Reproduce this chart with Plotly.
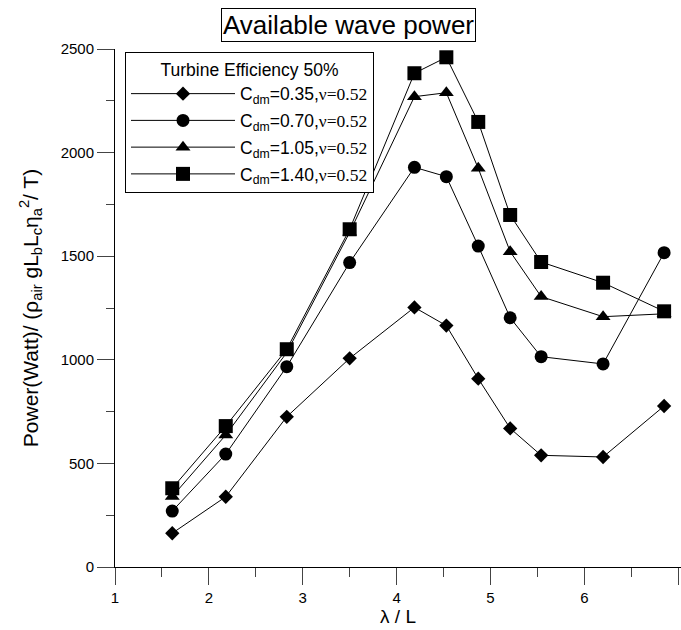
import plotly.graph_objects as go

# ---- data ----
lam_over_L = [1.61, 2.18, 2.83, 3.50, 4.19, 4.53, 4.87, 5.21, 5.54, 6.20, 6.85]
p_cdm035 = [163, 339, 725, 1007, 1253, 1165, 909, 669, 539, 531, 777]
p_cdm070 = [270, 545, 967, 1469, 1929, 1884, 1549, 1203, 1015, 980, 1517]
p_cdm105 = [340, 637, 1035, 1615, 2270, 2289, 1924, 1522, 1305, 1208, 1222]
p_cdm140 = [380, 680, 1051, 1630, 2383, 2460, 2148, 1699, 1472, 1372, 1234]

series_names = ["0.35", "0.70", "1.05", "1.40"]
series_vals = [p_cdm035, p_cdm070, p_cdm105, p_cdm140]
symbols = ["diamond", "circle", "triangle-up", "square"]
sizes = [11, 13, 13, 14]

SANS = "Liberation Sans, Arial, sans-serif"
SERIF = "Liberation Serif"

fig = go.Figure()
for i, (name, vals, sym, sz) in enumerate(zip(series_names, series_vals, symbols, sizes)):
    label = ("C<sub>dm</sub>=" + name + ",<span style='font-family:" + SERIF +
             "'>ν=0.52</span>")
    fig.add_trace(go.Scatter(
        x=lam_over_L, y=vals, mode="lines+markers", name=label,
        legendgroup="g" + str(i),
        line=dict(color="black", width=1),
        marker=dict(symbol=sym, size=sz, color="black", line=dict(width=0)),
        cliponaxis=False,
    ))

fig.update_layout(
    width=681, height=630,
    margin=dict(l=115, r=0, t=49, b=63),
    paper_bgcolor="white", plot_bgcolor="white",
    font=dict(family=SANS, color="black", size=15),
    showlegend=True,
    legend=dict(
        x=(125 - 115) / 566, y=1 - (52 - 49) / 518, xanchor="left", yanchor="top",
        bgcolor="white", bordercolor="black", borderwidth=1,
        font=dict(family=SANS, size=17.5, color="black"),
        title=dict(text="Turbine Efficiency 50%", side="top center",
                   font=dict(family=SANS, size=17.5)),
        itemwidth=104,
        tracegroupgap=1,
    ),
    xaxis=dict(
        range=[1, 7.03], showgrid=False, zeroline=False,
        showline=True, linecolor="black", linewidth=1,
        ticks="outside", ticklen=17, tickwidth=1, tickcolor="#444",
        tick0=1, dtick=1,
        minor=dict(dtick=0.5, ticks="outside", ticklen=9, tickcolor="#444", tickwidth=1),
        tickfont=dict(size=15),
        title=dict(text="λ / L", font=dict(size=19), standoff=4),
    ),
    yaxis=dict(
        range=[0, 2500], showgrid=False, zeroline=False,
        showline=True, linecolor="black", linewidth=1,
        ticks="outside", ticklen=17, tickwidth=1, tickcolor="#444",
        tick0=0, dtick=500,
        minor=dict(dtick=250, ticks="outside", ticklen=8, tickcolor="#444", tickwidth=1),
        tickfont=dict(size=15),
        title=dict(text="Power(Watt)/ (ρ<sub>air</sub> gL<sub>b</sub>L<sub>c</sub>η<sub>a</sub><sup>2</sup>/ T)",
                   font=dict(size=21), standoff=16),
    ),
    annotations=[dict(
        text="Available wave power", xref="paper", yref="paper",
        x=(348 - 115) / 566, y=1 + (49 - 25) / 518, xanchor="center", yanchor="middle",
        showarrow=False, font=dict(family=SANS, size=26, color="black"),
        bordercolor="black", borderwidth=1, borderpad=1, bgcolor="white",
    )],
)

fig.write_html("out.html")
